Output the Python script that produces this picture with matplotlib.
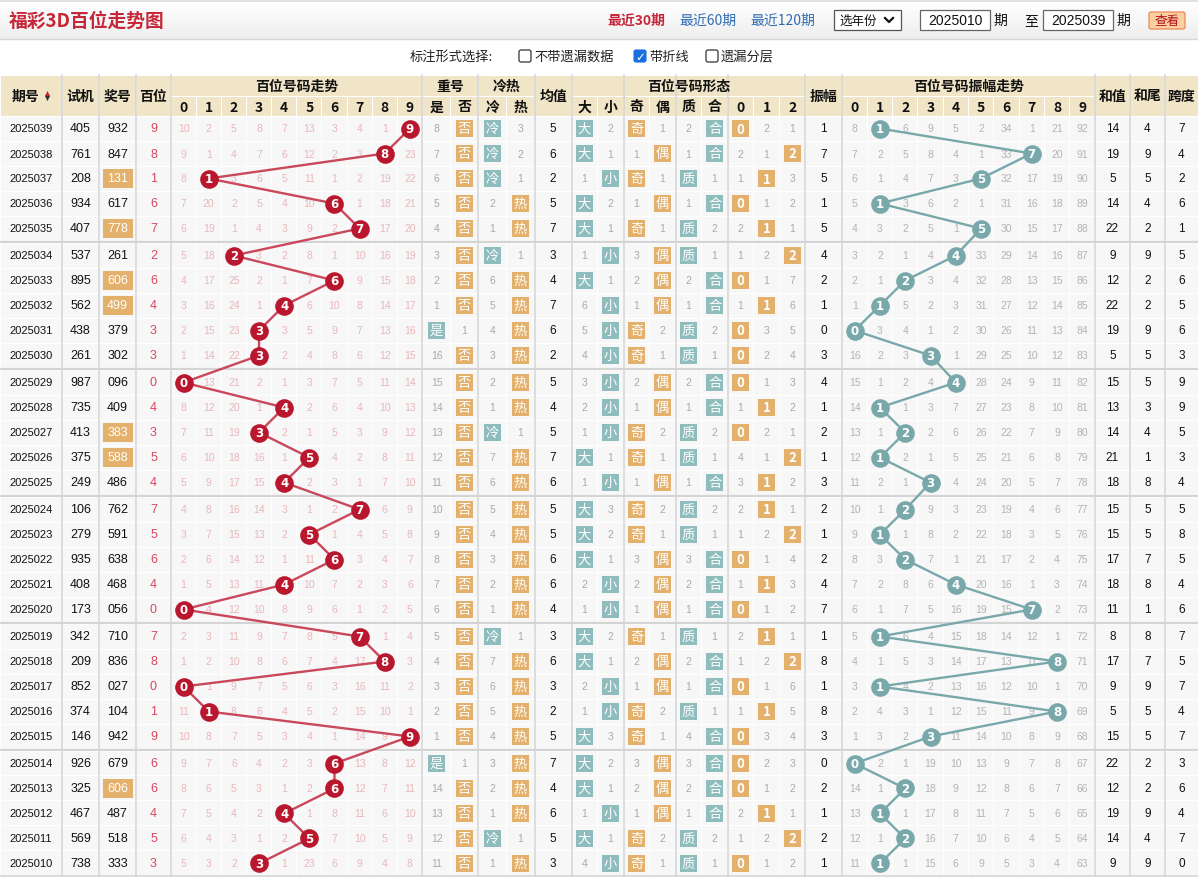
import matplotlib
matplotlib.use("Agg")
import matplotlib.pyplot as plt
import numpy as np
from matplotlib.patches import Rectangle, FancyBboxPatch
from matplotlib.collections import PatchCollection

plt.rcParams['font.family'] = ['Noto Sans CJK SC', 'DejaVu Sans']
NUM_FONT = ['Liberation Sans', 'DejaVu Sans']

# ---------------- data (top row = latest period) ----------------
periods = ["2025039", "2025038", "2025037", "2025036", "2025035",
           "2025034", "2025033", "2025032", "2025031", "2025030",
           "2025029", "2025028", "2025027", "2025026", "2025025",
           "2025024", "2025023", "2025022", "2025021", "2025020",
           "2025019", "2025018", "2025017", "2025016", "2025015",
           "2025014", "2025013", "2025012", "2025011", "2025010"]
test_nums = ["405", "761", "208", "934", "407", "537", "895", "562", "438", "261",
             "987", "735", "413", "375", "249", "106", "279", "935", "408", "173",
             "342", "209", "852", "374", "146", "926", "325", "467", "569", "738"]
prize_nums = ["932", "847", "131", "617", "778", "261", "606", "499", "379", "302",
              "096", "409", "383", "588", "486", "762", "591", "638", "468", "056",
              "710", "836", "027", "104", "942", "679", "606", "487", "518", "333"]
hundreds = [int(p[0]) for p in prize_nums]

# missing counts per digit 0-9, 0 = hit
trend_miss = [
    [10, 2, 5, 8, 7, 13, 3, 4, 1, 0],
    [9, 1, 4, 7, 6, 12, 2, 3, 0, 23],
    [8, 0, 3, 6, 5, 11, 1, 2, 19, 22],
    [7, 20, 2, 5, 4, 10, 0, 1, 18, 21],
    [6, 19, 1, 4, 3, 9, 2, 0, 17, 20],
    [5, 18, 0, 3, 2, 8, 1, 10, 16, 19],
    [4, 17, 25, 2, 1, 7, 0, 9, 15, 18],
    [3, 16, 24, 1, 0, 6, 10, 8, 14, 17],
    [2, 15, 23, 0, 3, 5, 9, 7, 13, 16],
    [1, 14, 22, 0, 2, 4, 8, 6, 12, 15],
    [0, 13, 21, 2, 1, 3, 7, 5, 11, 14],
    [8, 12, 20, 1, 0, 2, 6, 4, 10, 13],
    [7, 11, 19, 0, 2, 1, 5, 3, 9, 12],
    [6, 10, 18, 16, 1, 0, 4, 2, 8, 11],
    [5, 9, 17, 15, 0, 2, 3, 1, 7, 10],
    [4, 8, 16, 14, 3, 1, 2, 0, 6, 9],
    [3, 7, 15, 13, 2, 0, 1, 4, 5, 8],
    [2, 6, 14, 12, 1, 11, 0, 3, 4, 7],
    [1, 5, 13, 11, 0, 10, 7, 2, 3, 6],
    [0, 4, 12, 10, 8, 9, 6, 1, 2, 5],
    [2, 3, 11, 9, 7, 8, 5, 0, 1, 4],
    [1, 2, 10, 8, 6, 7, 4, 17, 0, 3],
    [0, 1, 9, 7, 5, 6, 3, 16, 11, 2],
    [11, 0, 8, 6, 4, 5, 2, 15, 10, 1],
    [10, 8, 7, 5, 3, 4, 1, 14, 9, 0],
    [9, 7, 6, 4, 2, 3, 0, 13, 8, 12],
    [8, 6, 5, 3, 1, 2, 0, 12, 7, 11],
    [7, 5, 4, 2, 0, 1, 8, 11, 6, 10],
    [6, 4, 3, 1, 2, 0, 7, 10, 5, 9],
    [5, 3, 2, 0, 1, 23, 6, 9, 4, 8],
]
repeat_miss = [[8, 0], [7, 0], [6, 0], [5, 0], [4, 0], [3, 0], [2, 0], [1, 0], [0, 1], [16, 0],
               [15, 0], [14, 0], [13, 0], [12, 0], [11, 0], [10, 0], [9, 0], [8, 0], [7, 0], [6, 0],
               [5, 0], [4, 0], [3, 0], [2, 0], [1, 0], [0, 1], [14, 0], [13, 0], [12, 0], [11, 0]]
hotcold_miss = [[0, 3], [0, 2], [0, 1], [2, 0], [1, 0], [0, 1], [6, 0], [5, 0], [4, 0], [3, 0],
                [2, 0], [1, 0], [0, 1], [7, 0], [6, 0], [5, 0], [4, 0], [3, 0], [2, 0], [1, 0],
                [0, 1], [7, 0], [6, 0], [5, 0], [4, 0], [3, 0], [2, 0], [1, 0], [0, 1], [1, 0]]
avg_vals = [5, 6, 2, 5, 7, 3, 4, 7, 6, 2, 5, 4, 5, 7, 6, 5, 5, 6, 6, 4, 3, 6, 3, 2, 5, 7, 4, 6, 5, 3]
bigsmall_miss = [[0, 2], [0, 1], [1, 0], [0, 2], [0, 1], [1, 0], [0, 1], [6, 0], [5, 0], [4, 0],
                 [3, 0], [2, 0], [1, 0], [0, 1], [1, 0], [0, 3], [0, 2], [0, 1], [2, 0], [1, 0],
                 [0, 2], [0, 1], [2, 0], [1, 0], [0, 3], [0, 2], [0, 1], [1, 0], [0, 1], [4, 0]]
oddeven_miss = [[0, 1], [1, 0], [0, 1], [1, 0], [0, 1], [3, 0], [2, 0], [1, 0], [0, 2], [0, 1],
                [2, 0], [1, 0], [0, 2], [0, 1], [1, 0], [0, 2], [0, 1], [3, 0], [2, 0], [1, 0],
                [0, 1], [2, 0], [1, 0], [0, 2], [0, 1], [3, 0], [2, 0], [1, 0], [0, 2], [0, 1]]
primecomp_miss = [[2, 0], [1, 0], [0, 1], [1, 0], [0, 2], [0, 1], [2, 0], [1, 0], [0, 2], [0, 1],
                  [2, 0], [1, 0], [0, 2], [0, 1], [1, 0], [0, 2], [0, 1], [3, 0], [2, 0], [1, 0],
                  [0, 1], [2, 0], [1, 0], [0, 1], [4, 0], [3, 0], [2, 0], [1, 0], [0, 2], [0, 1]]
mod3_miss = [[0, 2, 1], [2, 1, 0], [1, 0, 3], [0, 1, 2], [2, 0, 1], [1, 2, 0], [0, 1, 7], [1, 0, 6],
             [0, 3, 5], [0, 2, 4], [0, 1, 3], [1, 0, 2], [0, 2, 1], [4, 1, 0], [3, 0, 2], [2, 0, 1],
             [1, 2, 0], [0, 1, 4], [1, 0, 3], [0, 1, 2], [2, 0, 1], [1, 2, 0], [0, 1, 6], [1, 0, 5],
             [0, 3, 4], [0, 2, 3], [0, 1, 2], [2, 0, 1], [1, 2, 0], [0, 1, 2]]
amp_vals = [1, 7, 5, 1, 5, 4, 2, 1, 0, 3, 4, 1, 2, 1, 3, 2, 1, 2, 4, 7, 1, 8, 1, 8, 3, 0, 2, 1, 2, 1]
amp_miss = [
    [8, 0, 6, 9, 5, 2, 34, 1, 21, 92],
    [7, 2, 5, 8, 4, 1, 33, 0, 20, 91],
    [6, 1, 4, 7, 3, 0, 32, 17, 19, 90],
    [5, 0, 3, 6, 2, 1, 31, 16, 18, 89],
    [4, 3, 2, 5, 1, 0, 30, 15, 17, 88],
    [3, 2, 1, 4, 0, 33, 29, 14, 16, 87],
    [2, 1, 0, 3, 4, 32, 28, 13, 15, 86],
    [1, 0, 5, 2, 3, 31, 27, 12, 14, 85],
    [0, 3, 4, 1, 2, 30, 26, 11, 13, 84],
    [16, 2, 3, 0, 1, 29, 25, 10, 12, 83],
    [15, 1, 2, 4, 0, 28, 24, 9, 11, 82],
    [14, 0, 1, 3, 7, 27, 23, 8, 10, 81],
    [13, 1, 0, 2, 6, 26, 22, 7, 9, 80],
    [12, 0, 2, 1, 5, 25, 21, 6, 8, 79],
    [11, 2, 1, 0, 4, 24, 20, 5, 7, 78],
    [10, 1, 0, 9, 3, 23, 19, 4, 6, 77],
    [9, 0, 1, 8, 2, 22, 18, 3, 5, 76],
    [8, 3, 0, 7, 1, 21, 17, 2, 4, 75],
    [7, 2, 8, 6, 0, 20, 16, 1, 3, 74],
    [6, 1, 7, 5, 16, 19, 15, 0, 2, 73],
    [5, 0, 6, 4, 15, 18, 14, 12, 1, 72],
    [4, 1, 5, 3, 14, 17, 13, 11, 0, 71],
    [3, 0, 4, 2, 13, 16, 12, 10, 1, 70],
    [2, 4, 3, 1, 12, 15, 11, 9, 0, 69],
    [1, 3, 2, 0, 11, 14, 10, 8, 9, 68],
    [0, 2, 1, 19, 10, 13, 9, 7, 8, 67],
    [14, 1, 0, 18, 9, 12, 8, 6, 7, 66],
    [13, 0, 1, 17, 8, 11, 7, 5, 6, 65],
    [12, 1, 0, 16, 7, 10, 6, 4, 5, 64],
    [11, 0, 1, 15, 6, 9, 5, 3, 4, 63],
]
sum_vals = [14, 19, 5, 14, 22, 9, 12, 22, 19, 5, 15, 13, 14, 21, 18, 15, 15, 17, 18, 11, 8, 17, 9, 5, 15, 22, 12, 19, 14, 9]
sum_tail = [4, 9, 5, 4, 2, 9, 2, 2, 9, 5, 5, 3, 4, 1, 8, 5, 5, 7, 8, 1, 8, 7, 9, 5, 5, 2, 2, 9, 4, 9]
span_vals = [7, 4, 2, 6, 1, 5, 6, 5, 6, 3, 9, 9, 5, 3, 4, 5, 8, 5, 4, 6, 7, 5, 7, 4, 7, 3, 6, 4, 7, 0]

digit_labels = [str(d) for d in range(10)]

# ---------------- colours ----------------
RED = '#b8172d'
RED_LINE = '#c9485b'
TEAL = '#8fbdbd'
TEAL_DOT = '#79a8ab'
ORANGE = '#e3b16b'
HEAD_BG = '#f1e5c7'
CELL_BG = '#f7f7f7'
PINK = '#e9b7ba'
GRAY = '#a9a9a9'
SEP = '#d4d4d4'

# ---------------- layout ----------------
W, H = 1198, 879
fig = plt.figure(figsize=(W / 100, H / 100), dpi=100)
ax = fig.add_axes([0, 0, 1, 1])
ax.set_xlim(0, W)
ax.set_ylim(H, 0)
ax.axis('off')

widths = ([62, 37, 37, 35] + [25.15] * 10 + [28.2, 27.8, 27.8, 28.3] + [37]
          + [26.0] * 6 + [25.9] * 3 + [36.7] + [25.29] * 10 + [34.8, 35.2, 33.2])
edges = np.concatenate([[0], np.cumsum(widths)])
centers = (edges[:-1] + edges[1:]) / 2
ncol = len(widths)

HEAD_TOP, HEAD_MID, BODY_TOP = 76, 97, 117
ROW_H, GAP = 25, 2
n = len(periods)
row_top = [BODY_TOP + i * ROW_H + (i // 5) * GAP for i in range(n)]
row_mid = [t + ROW_H / 2 for t in row_top]
table_bottom = row_top[-1] + ROW_H

# ---- title bar ----
ax.add_patch(Rectangle((0, 0), W, 3, facecolor='#e2e2e2', edgecolor='none'))
grad = np.linspace(1.0, 0.93, 50).reshape(-1, 1)
ax.imshow(grad, extent=[0, W, 40, 3], cmap='gray', vmin=0, vmax=1, aspect='auto', zorder=0)
ax.plot([0, W], [40, 40], color='#d6d6d6', lw=1)
ax.text(9, 21, '福彩3D百位走势图', fontsize=13.5, fontweight='bold', color='#c6283a', va='center', ha='left')

ax.text(607, 21, '最近30期', fontsize=10, fontweight='bold', color='#c6283a', va='center')
ax.text(679, 21, '最近60期', fontsize=10, color='#2f6cb3', va='center')
ax.text(750, 21, '最近120期', fontsize=10, color='#2f6cb3', va='center')
ax.add_patch(Rectangle((834, 11), 67, 20, facecolor='white', edgecolor='#555555', lw=0.9))
ax.text(839, 21, '选年份', fontsize=9, color='#111', va='center')
ax.plot([885, 889, 893], [19, 23, 19], color='#111', lw=1.6)
ax.add_patch(Rectangle((920, 11), 70, 20, facecolor='white', edgecolor='#666666', lw=0.9))
ax.text(955, 21, '2025010', fontsize=10, color='#111', va='center', ha='center', family=NUM_FONT)
ax.text(1000, 21, '期', fontsize=10, color='#111', va='center', ha='center')
ax.text(1031, 21, '至', fontsize=10, color='#111', va='center', ha='center')
ax.add_patch(Rectangle((1043, 11), 70, 20, facecolor='white', edgecolor='#666666', lw=0.9))
ax.text(1078, 21, '2025039', fontsize=10, color='#111', va='center', ha='center', family=NUM_FONT)
ax.text(1123, 21, '期', fontsize=10, color='#111', va='center', ha='center')
ax.add_patch(FancyBboxPatch((1149, 13), 36, 17, boxstyle='round,pad=0,rounding_size=2',
                            facecolor='#fbcf9f', edgecolor='#e58b55', lw=0.9))
ax.text(1167, 21.5, '查看', fontsize=9, color='#b0101e', va='center', ha='center')

# ---- option line ----
ax.text(410, 57, '标注形式选择:', fontsize=9.5, color='#222', va='center')
opts = [(519, '不带遗漏数据', False), (634, '带折线', True), (706, '遗漏分层', False)]
for ox, label, checked in opts:
    if checked:
        ax.add_patch(FancyBboxPatch((ox, 51), 12, 12, boxstyle='round,pad=0,rounding_size=2',
                                    facecolor='#1a6fe0', edgecolor='#1a6fe0', lw=0.8))
        ax.text(ox + 6, 57.5, '✓', fontsize=8.5, color='white', va='center', ha='center',
                fontweight='bold', family='DejaVu Sans')
    else:
        ax.add_patch(FancyBboxPatch((ox, 51), 12, 12, boxstyle='round,pad=0,rounding_size=2',
                                    facecolor='white', edgecolor='#333333', lw=0.9))
    ax.text(ox + 15, 57, label, fontsize=9.5, color='#222', va='center')

# ---- header ----
header_spans = [(0, 0, '期号'), (1, 1, '试机'), (2, 2, '奖号'), (3, 3, '百位'),
                (4, 13, '百位号码走势'), (14, 15, '重号'), (16, 17, '冷热'), (18, 18, '均值'),
                (19, 27, '百位号码形态'), (28, 28, '振幅'), (29, 38, '百位号码振幅走势'),
                (39, 39, '和值'), (40, 40, '和尾'), (41, 41, '跨度')]
sub_labels = {}
for k in range(10):
    sub_labels[4 + k] = digit_labels[k]
    sub_labels[29 + k] = digit_labels[k]
for c, s in zip(range(14, 28), ['是', '否', '冷', '热', None, '大', '小', '奇', '偶', '质', '合', '0', '1', '2']):
    if s:
        sub_labels[c] = s

head_cells = []
for c0, c1, label in header_spans:
    x0, x1 = edges[c0], edges[c1 + 1]
    if c0 == c1:
        head_cells.append(Rectangle((x0 + 0.5, HEAD_TOP + 0.5), x1 - x0 - 1, BODY_TOP - HEAD_TOP - 1))
        tx = (x0 + x1) / 2 - (5 if label == '期号' else 0)
        ax.text(tx, (HEAD_TOP + BODY_TOP) / 2, label, fontsize=10, fontweight='bold',
                color='#111', ha='center', va='center', zorder=3)
    else:
        head_cells.append(Rectangle((x0 + 0.5, HEAD_TOP + 0.5), x1 - x0 - 1, HEAD_MID - HEAD_TOP - 1))
        ax.text((x0 + x1) / 2, (HEAD_TOP + HEAD_MID) / 2, label, fontsize=10, fontweight='bold',
                color='#111', ha='center', va='center', zorder=3)
        for c in range(c0, c1 + 1):
            head_cells.append(Rectangle((edges[c] + 0.5, HEAD_MID + 0.5), widths[c] - 1, BODY_TOP - HEAD_MID - 1))
            ax.text(centers[c], (HEAD_MID + BODY_TOP) / 2 + 0.5, sub_labels[c], fontsize=10,
                    fontweight='bold', color='#111', ha='center', va='center', zorder=3)
ax.add_collection(PatchCollection(head_cells, facecolor=HEAD_BG, edgecolor='none', zorder=1))
ax.scatter([47], [93.5], marker='^', s=14, color='#c6283a', zorder=3, linewidths=0)
ax.scatter([47], [99], marker='v', s=14, color='#333333', zorder=3, linewidths=0)

# ---- body cells ----
cells = []
for i in range(n):
    for c in range(ncol):
        cells.append(Rectangle((edges[c] + 0.5, row_top[i] + 0.5), widths[c] - 1, ROW_H - 1))
ax.add_collection(PatchCollection(cells, facecolor=CELL_BG, edgecolor='none', zorder=1))

group_edges = [1, 2, 3, 4, 14, 16, 18, 19, 21, 23, 25, 28, 29, 39, 40, 41]
for g in group_edges:
    ax.plot([edges[g], edges[g]], [HEAD_TOP, table_bottom], color=SEP, lw=1.1, zorder=1.5)
for g in range(5, n, 5):
    yy = row_top[g] - GAP / 2 - 0.5
    ax.plot([0, W], [yy, yy], color=SEP, lw=1.6, zorder=1.5)
ax.plot([0, W], [table_bottom, table_bottom], color=SEP, lw=1.2, zorder=1.5)


def box(cx, cy, label, color, w=17, h=17, fs=9.5, bold=False):
    ax.add_patch(Rectangle((cx - w / 2, cy - h / 2), w, h, facecolor=color, edgecolor='none', zorder=2))
    ax.text(cx, cy, label, fontsize=fs, color='white', ha='center', va='center', zorder=3,
            fontweight='bold' if bold else 'normal', family=['Noto Sans CJK SC', 'DejaVu Sans'])


def num(cx, cy, val, color, fs=7.5):
    ax.text(cx, cy, str(val), fontsize=fs, color=color, ha='center', va='center', zorder=2.5,
            family=NUM_FONT)


pair_groups = [
    (14, repeat_miss, ['是', '否'], [TEAL, ORANGE]),
    (16, hotcold_miss, ['冷', '热'], [TEAL, ORANGE]),
    (19, bigsmall_miss, ['大', '小'], [TEAL, TEAL]),
    (21, oddeven_miss, ['奇', '偶'], [ORANGE, ORANGE]),
    (23, primecomp_miss, ['质', '合'], [TEAL, TEAL]),
    (25, mod3_miss, ['0', '1', '2'], [ORANGE, ORANGE, ORANGE]),
]

for i in range(n):
    y = row_mid[i]
    num(centers[0], y, periods[i], '#111', fs=8)
    num(centers[1], y, test_nums[i], '#111', fs=9)
    if len(set(prize_nums[i])) == 2:
        ax.add_patch(Rectangle((centers[2] - 15, y - 9.5), 30, 19, facecolor=ORANGE, edgecolor='none', zorder=2))
        num(centers[2], y, prize_nums[i], 'white', fs=9)
    else:
        num(centers[2], y, prize_nums[i], '#111', fs=9)
    num(centers[3], y, hundreds[i], '#d8475e', fs=9)
    for k, v in enumerate(trend_miss[i]):
        if v != 0:
            num(centers[4 + k], y, v, PINK)
    for c0, miss, labels, colors in pair_groups:
        for k, v in enumerate(miss[i]):
            if v == 0:
                box(centers[c0 + k], y, labels[k], colors[k], bold=labels[k].isdigit())
            else:
                num(centers[c0 + k], y, v, GRAY)
    num(centers[18], y, avg_vals[i], '#111', fs=8.5)
    num(centers[28], y, amp_vals[i], '#111', fs=8.5)
    for k, v in enumerate(amp_miss[i]):
        if v != 0:
            num(centers[29 + k], y, v, '#b3b3b3')
    num(centers[39], y, sum_vals[i], '#111', fs=8.5)
    num(centers[40], y, sum_tail[i], '#111', fs=8.5)
    num(centers[41], y, span_vals[i], '#111', fs=8.5)

# ---- trend lines and balls ----
hx = [centers[4 + d] for d in hundreds]
ax.plot(hx, row_mid, color=RED_LINE, lw=1.7, zorder=3)
ax.scatter(hx, row_mid, s=180, color=RED, zorder=4, linewidths=0)
for x, y, d in zip(hx, row_mid, hundreds):
    ax.text(x, y, str(d), fontsize=8.5, fontweight='bold', color='white', ha='center', va='center',
            zorder=5, family='DejaVu Sans')

ax_x = [centers[29 + a] for a in amp_vals]
ax.plot(ax_x, row_mid, color=TEAL_DOT, lw=1.7, zorder=3)
ax.scatter(ax_x, row_mid, s=180, color=TEAL_DOT, zorder=4, linewidths=0)
for x, y, a in zip(ax_x, row_mid, amp_vals):
    ax.text(x, y, str(a), fontsize=8.5, fontweight='bold', color='white', ha='center', va='center',
            zorder=5, family='DejaVu Sans')

fig.savefig('out.png', dpi=100, facecolor='white')
